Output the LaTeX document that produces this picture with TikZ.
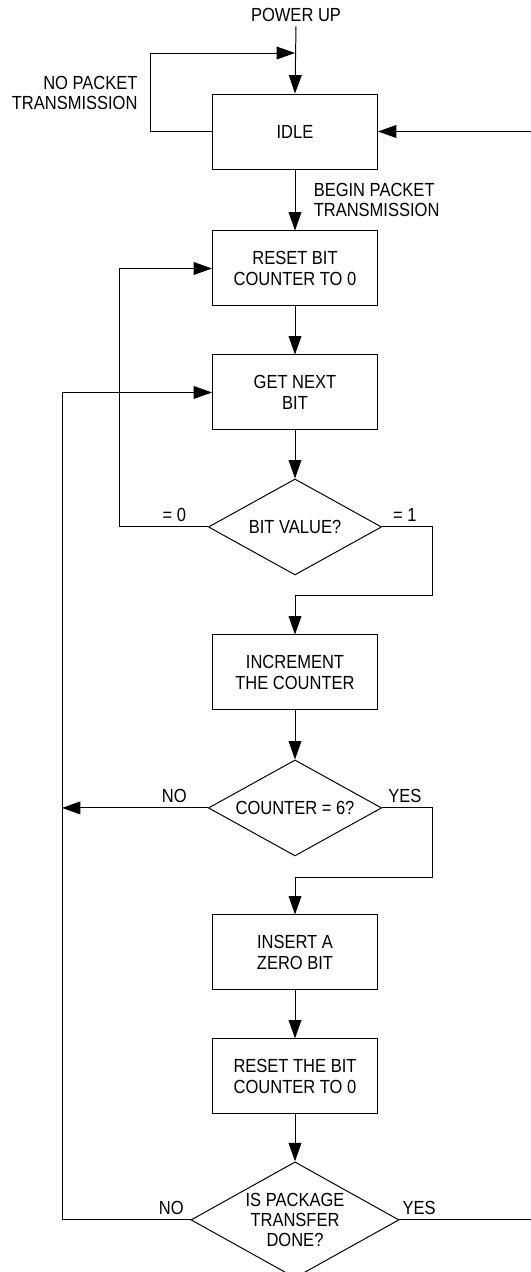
\documentclass[tikz,border=0pt]{standalone}
\usepackage{fontspec}
\setmainfont{Liberation Sans}[FakeStretch=0.87]
\usetikzlibrary{arrows.meta, positioning, shapes.geometric, calc}
\tikzset{
  pbox/.style={draw, line width=0.7pt, align=center,
    minimum width=4.125cm, minimum height=1.875cm, inner sep=2pt},
  dbox/.style={draw, diamond, line width=0.7pt, align=center, aspect=1.8,
    inner sep=0pt, minimum width=4.33cm, minimum height=2.4cm},
  flow/.style={-{Triangle[length=4.6mm, width=3.2mm]}, line width=0.7pt},
  tag/.style={inner sep=3pt},
}

\begin{document}
\begin{tikzpicture}[font=\fontsize{13.5}{14.5}\selectfont]
    \useasboundingbox (0,0) rectangle (13.275,-31.8);
    \coordinate (lft) at (1.55,0);
    \coordinate (edge) at (13.275,0);

    \node[pbox] (idle) at (7.375,-3.2875) {IDLE};
    \node[pbox, below=1.525cm of idle] (rst) {RESET BIT\\COUNTER TO 0};
    \node[pbox, below=1.2cm of rst] (getbit) {GET NEXT\\BIT};
    \node[dbox, below=1.2cm of getbit] (bitval) {BIT VALUE?};
    \node[pbox, below=1.475cm of bitval] (incr) {INCREMENT\\THE COUNTER};
    \node[dbox, below=1.225cm of incr] (cnt) {COUNTER = 6?};
    \node[pbox, below=1.45cm of cnt] (insz) {INSERT A\\ZERO BIT};
    \node[pbox, below=1.2cm of insz] (rstb) {RESET THE BIT\\COUNTER TO 0};
    \node[dbox, below=1.175cm of rstb, minimum width=5.2cm, minimum height=2.9cm]
      (done) {IS PACKAGE\\TRANSFER\\DONE?};

    \node[tag] (pwr) at (7.4,-0.375) {POWER UP};
    \node[tag, anchor=east, align=right] (nopkt) at (3.55,-2.33) {NO PACKET\\TRANSMISSION};
    \coordinate (join) at (7.375,-1.325);

    % power up and idle loop
    \draw[flow] (pwr.south) -- (idle.north);
    \draw[flow] (idle.west) -- ++(-1.55,0) |- (join);
    \draw[flow] (idle.east -| edge) -- (idle.east);
    \draw[flow] (idle) -- node[right=0.34cm, align=left] {BEGIN PACKET\\TRANSMISSION} (rst);

    % main column
    \draw[flow] (rst) -- (getbit);
    \draw[flow] (getbit) -- (bitval);
    \draw[flow] (bitval.west) -- node[above, pos=0.38] {= 0} ++(-2.21,0) |- (rst.west);
    \draw[flow] (bitval.east) -- node[above, pos=0.45] {= 1} ++(1.26,0)
      |- ($(incr.north)+(0,0.975)$) -- (incr.north);
    \draw[flow] (incr) -- (cnt);
    \draw[flow] (cnt.west) -- node[above, pos=0.23] {NO} (cnt.west -| lft);
    \draw[flow] (cnt.east) -- node[above, pos=0.45] {YES} ++(1.26,0)
      |- ($(insz.north)+(0,0.925)$) -- (insz.north);
    \draw[flow] (insz) -- (rstb);
    \draw[flow] (rstb) -- (done);

    % packet done?
    \draw[flow] (done.west) -- node[above, pos=0.15] {NO} (done.west -| lft) |- (getbit.west);
    \draw[line width=0.7pt] (done.east) -- node[above, pos=0.15] {YES} (done.east -| edge);
\end{tikzpicture}
\end{document}
